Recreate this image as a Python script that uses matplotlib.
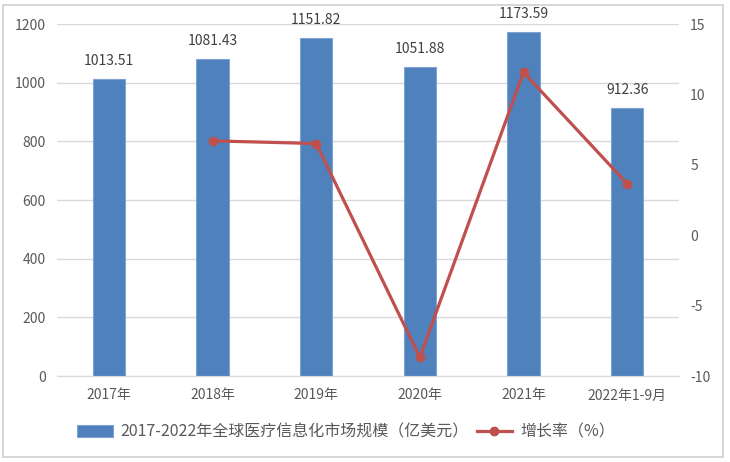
import matplotlib
matplotlib.use("Agg")
import matplotlib.pyplot as plt
from matplotlib.patches import Rectangle

plt.rcParams['font.family'] = ['Noto Sans CJK SC', 'DejaVu Sans']
plt.rcParams['axes.unicode_minus'] = False

categories = ["2017年", "2018年", "2019年", "2020年", "2021年", "2022年1-9月"]
market_size = [1013.51, 1081.43, 1151.82, 1051.88, 1173.59, 912.36]
growth_x = [1, 2, 3, 4, 5]
growth_rate = [6.70, 6.51, -8.67, 11.57, 3.66]

bar_label = "2017-2022年全球医疗信息化市场规模（亿美元）"
line_label = "增长率（%）"

bar_color = "#4F81BD"
line_color = "#C0504D"
text_color = "#595959"
grid_color = "#D9D9D9"

fig = plt.figure(figsize=(7.3, 4.62), dpi=100)
fig.patches.append(Rectangle((0.004, 0.01), 0.987, 0.98, transform=fig.transFigure,
                             fill=False, edgecolor="#D0D0D0", linewidth=1.2))
ax = fig.add_axes([57/730, 1-376/462, (679-57)/730, (376-24)/462])
ax2 = ax.twinx()

x = list(range(len(categories)))
bars = ax.bar(x, market_size, width=0.31, color=bar_color, edgecolor="#7FA3D3",
              linewidth=0.8, label=bar_label, zorder=2)
for xi, v in zip(x, market_size):
    ax.annotate(f"{v:.2f}", (xi, v), xytext=(0, 8), textcoords="offset points",
                ha="center", va="bottom", fontsize=10, color="#404040")

ax.set_ylim(0, 1200)
ax.set_yticks(range(0, 1201, 200))
ax.set_xlim(-0.5, len(categories) - 0.5)
ax.set_xticks(x)
ax.set_xticklabels(categories)
ax.yaxis.grid(True, color=grid_color, linewidth=1)
ax.set_axisbelow(True)
for s in ["top", "right", "left"]:
    ax.spines[s].set_visible(False)
ax.spines["bottom"].set_color(grid_color)
ax.tick_params(axis="both", length=0, labelsize=10, colors=text_color)
ax.tick_params(axis="x", pad=9)
ax.tick_params(axis="y", pad=8)

line, = ax2.plot(growth_x, growth_rate, color=line_color, linewidth=2.3,
                 marker="o", markersize=6, label=line_label, zorder=3)
ax2.set_ylim(-10, 15)
ax2.set_yticks(range(-10, 16, 5))
for s in ax2.spines.values():
    s.set_visible(False)
ax2.tick_params(axis="y", length=0, labelsize=10, colors=text_color, pad=8)

leg = fig.legend([bars, line], [bar_label, line_label], loc="center",
                 bbox_to_anchor=(0.474, 1-432/462), ncol=2, frameon=False,
                 fontsize=11.5, handlelength=2.2, handleheight=0.75, columnspacing=0.5,
                 handletextpad=0.5)
for t in leg.get_texts():
    t.set_color(text_color)

fig.savefig("out.png", dpi=100)
